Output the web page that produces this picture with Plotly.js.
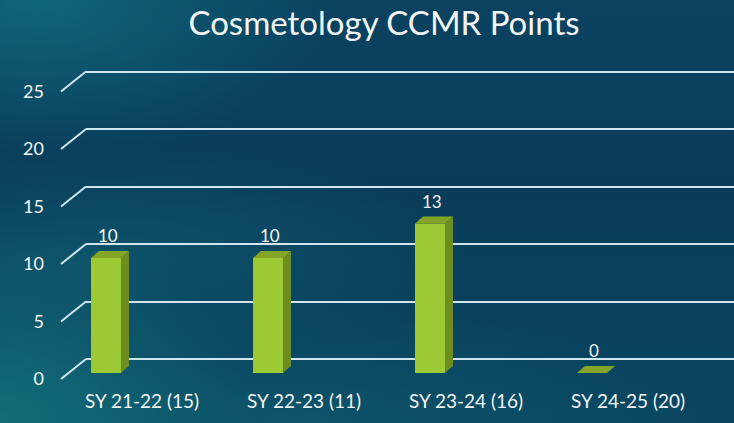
<!DOCTYPE html>
<html>
<head>
<meta charset="utf-8">
<script src="https://cdn.plot.ly/plotly-3.0.1.min.js"></script>
<style>
html,body{margin:0;padding:0;}
body{
  width:734px;height:423px;overflow:hidden;
  background:
    radial-gradient(ellipse 260px 200px at 0% 100%, rgba(18,112,122,0.95), rgba(18,112,122,0) 100%),
    radial-gradient(ellipse 300px 160px at 5% 0%, rgba(16,104,124,0.9), rgba(16,104,124,0) 100%),
    radial-gradient(ellipse 360px 110px at 15% 60%, rgba(16,98,118,0.55), rgba(16,98,118,0) 100%),
    radial-gradient(ellipse 420px 120px at 40% 100%, rgba(14,90,110,0.7), rgba(14,90,110,0) 100%),
    linear-gradient(180deg, #0a4260 0%, #093c59 45%, #0a4560 100%);
}
#chart{width:734px;height:423px;}
</style>
</head>
<body>
<div id="chart"></div>
<script>
// ---- data ----
var categories = ["SY 21-22 (15)", "SY 22-23 (11)", "SY 23-24 (16)", "SY 24-25 (20)"];
var values = [10, 10, 13, 0];
var tickValues = [0, 5, 10, 15, 20, 25];
var titleText = "Cosmetology CCMR Points";

// ---- layout geometry (pixels of the 734x423 page) ----
var W = 734, H = 423;
var yMax = 27, yMinGrid = -1;
var ppu = 11.5;                 // pixels per unit
var barZeroPx = 373, gridZeroPx = 359;
function py(px){ return 1 - px / H; }

var font = "Lato, 'Open Sans', sans-serif";
var white = "#f2f6f8";
var gridColor = "#cfe6ee";

var traces = [
  // gridline (back wall) subplot: x / y  (drawn first => below)
  {x: [], y: [], type: "scatter", mode: "markers", xaxis: "x", yaxis: "y",
   hoverinfo: "skip", showlegend: false},
  // bars: x2 / y2
  {x: categories, y: values, type: "bar", xaxis: "x2", yaxis: "y2",
   width: 0.185, marker: {color: "#9cc934", line: {width: 0}},
   hoverinfo: "x+y", showlegend: false}
];

var shapes = [];
var dy = 7 / ppu;               // depth offset, in data units
values.forEach(function(v, i){
  // side face
  shapes.push({type: "path", xref: "x2", yref: "y2", xsizemode: "pixel", xanchor: i,
    path: "M 15," + 0 + " L 23," + dy + " L 23," + (v + dy) + " L 15," + v + " Z",
    fillcolor: "#6f8c1e", line: {width: 0}, layer: "above"});
  // top face
  shapes.push({type: "path", xref: "x2", yref: "y2", xsizemode: "pixel", xanchor: i,
    path: "M -15," + v + " L -7," + (v + dy) + " L 23," + (v + dy) + " L 15," + v + " Z",
    fillcolor: "#84a528", line: {width: 0}, layer: "above"});
});
// perspective diagonals from the front tick to the back-wall gridline
tickValues.forEach(function(t){
  var backPx = gridZeroPx - t * ppu;
  shapes.push({type: "line", xref: "paper", yref: "paper",
    x0: 61 / W, y0: py(backPx + 20), x1: 86 / W, y1: py(backPx),
    line: {color: gridColor, width: 2}, layer: "below"});
});

var annotations = values.map(function(v, i){
  return {x: i, y: v, xref: "x2", yref: "y2", text: String(v), showarrow: false,
    yanchor: "bottom", xanchor: "center", yshift: 10, xshift: 2,
    font: {family: font, size: 17, color: white}};
});

var layout = {
  width: W, height: H,
  margin: {l: 0, r: 0, t: 0, b: 0},
  paper_bgcolor: "rgba(0,0,0,0)",
  plot_bgcolor: "rgba(0,0,0,0)",
  title: {text: titleText, x: 384 / W, xanchor: "center", y: 1 - 23 / H, yanchor: "middle",
    font: {family: font, size: 33, color: white}},
  showlegend: false,
  // back wall gridlines
  xaxis: {domain: [86 / W, 1], range: [0, 1], visible: false, fixedrange: true},
  yaxis: {domain: [py(gridZeroPx - yMinGrid * ppu), py(gridZeroPx - yMax * ppu)],
    range: [yMinGrid, yMax],
    anchor: "x", tickvals: tickValues, showticklabels: false, showgrid: true,
    gridcolor: gridColor, gridwidth: 2, zeroline: false, showline: false, ticks: "",
    fixedrange: true},
  // bars
  xaxis2: {domain: [25 / W, 673 / W], range: [-0.5, 3.5], type: "category",
    categoryorder: "array", categoryarray: categories, anchor: "y2",
    showgrid: false, zeroline: false, showline: false, ticks: "",
    ticklabelshift: 36, ticklabelstandoff: 15,
    tickfont: {family: font, size: 19, color: white}, fixedrange: true},
  yaxis2: {domain: [py(barZeroPx), py(barZeroPx - yMax * ppu)], range: [0, yMax],
    anchor: "free", position: 44 / W,
    tickvals: tickValues, showgrid: false, zeroline: false, showline: false, ticks: "",
    ticklabelshift: 6,
    tickfont: {family: font, size: 18, color: white}, fixedrange: true},
  shapes: shapes,
  annotations: annotations
};

Plotly.newPlot("chart", traces, layout, {displayModeBar: false, staticPlot: true});
</script>
</body>
</html>
